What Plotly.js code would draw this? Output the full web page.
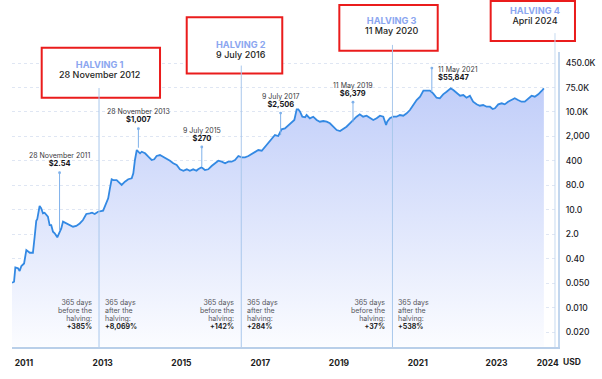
<!DOCTYPE html>
<html>
<head>
<meta charset="utf-8">
<script src="https://cdn.plot.ly/plotly-3.0.1.min.js"></script>
<style>html,body{margin:0;padding:0;background:#fff;}#chart{width:602px;height:379px;}</style>
</head>
<body>
<div id="chart"></div>
<script>
// ---- data ----
const priceDates = ['2010-09-13','2010-10-02','2010-10-14','2010-11-08','2010-11-23','2010-12-09','2011-01-03','2011-01-24','2011-02-25','2011-03-26','2011-04-11','2011-04-26','2011-05-05','2011-05-27','2011-06-11','2011-06-27','2011-07-12','2011-07-27','2011-08-12','2011-08-28','2011-09-12','2011-09-28','2011-10-14','2011-11-07','2011-11-29','2011-12-14','2011-12-30','2012-01-30','2012-03-01','2012-04-01','2012-05-01','2012-06-02','2012-07-02','2012-08-02','2012-09-03','2012-09-24','2012-10-19','2012-11-19','2013-01-05','2013-02-07','2013-02-21','2013-03-09','2013-03-25','2013-04-09','2013-05-10','2013-05-25','2013-06-26','2013-07-26','2013-08-26','2013-09-27','2013-10-12','2013-10-27','2013-11-13','2013-11-27','2013-12-13','2013-12-29','2014-01-29','2014-02-28','2014-03-31','2014-04-24','2014-05-16','2014-06-16','2014-07-16','2014-08-17','2014-09-17','2014-10-17','2014-11-18','2014-12-18','2015-01-19','2015-02-20','2015-03-20','2015-04-20','2015-05-21','2015-06-05','2015-07-07','2015-08-07','2015-09-07','2015-10-08','2015-11-08','2015-12-09','2016-01-10','2016-02-10','2016-03-10','2016-04-11','2016-05-12','2016-06-12','2016-07-13','2016-08-13','2016-09-13','2016-10-14','2016-11-14','2016-12-14','2017-01-15','2017-02-15','2017-03-15','2017-04-16','2017-05-17','2017-06-17','2017-07-02','2017-07-18','2017-08-18','2017-09-18','2017-10-19','2017-11-13','2017-12-05','2017-12-20','2018-01-05','2018-01-26','2018-02-21','2018-03-07','2018-04-06','2018-05-07','2018-06-08','2018-07-08','2018-08-08','2018-09-09','2018-10-09','2018-11-10','2018-12-11','2019-01-11','2019-02-11','2019-03-12','2019-04-12','2019-05-12','2019-06-13','2019-07-13','2019-08-13','2019-09-14','2019-10-15','2019-11-15','2019-12-16','2020-01-16','2020-02-16','2020-03-13','2020-03-23','2020-04-17','2020-05-17','2020-06-18','2020-07-19','2020-08-19','2020-09-20','2020-10-20','2020-11-20','2020-12-21','2021-01-22','2021-02-22','2021-03-23','2021-04-23','2021-05-23','2021-06-24','2021-07-24','2021-08-24','2021-09-25','2021-11-02','2021-11-26','2021-12-27','2022-01-28','2022-02-27','2022-03-29','2022-04-29','2022-05-29','2022-06-30','2022-07-30','2022-08-30','2022-10-01','2022-11-01','2022-11-26','2022-12-17','2023-01-17','2023-02-18','2023-03-18','2023-04-18','2023-05-19','2023-06-19','2023-07-19','2023-08-20','2023-09-20','2023-10-21','2023-11-22','2023-12-22','2024-01-23','2024-02-23','2024-03-15'];
const priceValues = [0.060,0.065,0.18,0.17,0.14,0.20,0.24,0.63,0.52,0.52,1.65,5.2,5.8,15.1,12.8,8.9,9.3,7.9,7.0,3.8,3.8,2.37,2.11,1.58,2.2,3.0,4.9,4.3,3.8,3.4,3.6,4.3,5.5,8.5,8.9,9.3,8.5,10.0,10.8,21.7,26.3,54,104,98,98,87,69,87,104,111,160,416,855,757,675,757,675,527,416,438,555,596,527,438,395,328,290,213,192,213,192,213,192,213,246,202,213,270,328,395,368,328,368,368,416,555,506,506,555,641,703,855,813,1084,1387,1849,2520,2344,2851,3802,4083,5180,6110,7430,16070,16070,13520,9420,9030,10650,8400,9420,7430,6580,6920,6580,5860,4580,3610,3365,3880,4580,5860,7430,9420,11200,9420,10140,8400,7430,8400,10140,9420,5180,6580,8400,9420,9420,10650,10140,12050,15280,21900,31400,39800,62200,62200,62200,50900,37100,35500,47300,57100,72900,64600,50900,42800,45000,37100,42800,27800,23000,20800,21900,19400,19400,16400,17300,23000,24800,23000,27800,31400,35500,31400,27800,27800,33700,42800,39800,47300,60100,72900];

const halvingDates = ['2012-11-28','2016-07-09','2020-05-11','2024-04-20'];
const halvingTitles = ['HALVING 1','HALVING 2','HALVING 3','HALVING 4'];
const halvingLabels = ['28 November 2012','9 July 2016','11 May 2020','April 2024'];

const eventDates = ['2011-11-28','2013-11-28','2015-07-09','2017-07-09','2019-05-11','2021-05-11'];
const eventDateLabels = ['28 November 2011','28 November 2013','9 July 2015','9 July 2017','11 May 2019','11 May 2021'];
const eventPrices = [2.54,1007,270,2506,6379,55847];
const eventPriceLabels = ['$2.54','$1,007','$270','$2,506','$6,379','$55,847'];

const beforePct = ['+385%','+142%','+37%'];
const afterPct = ['+8,069%','+284%','+538%'];

const yTickVals = [0.00172,0.0100,0.0583,0.340,1.98,11.5,67.1,391,2280,13270,77300,450800];
const yTickText = ['0.020','0.010','0.050','0.40','2.0','10.0','80.0','400','2,000','10.0K','75.0K','450.0K'];
const xTickVals = ['2011-01-01','2013-01-01','2015-01-01','2017-01-01','2019-01-01','2021-01-01','2023-01-01','2024-04-20'];
const xTickText = ['2011','2013','2015','2017','2019','2021','2023','2024'];

// ---- styling ----
const FONT = 'Inter, "Noto Sans", sans-serif';
const LINE_BLUE = '#3389e3';
const STEM = '#a9c8ec';
const RED = '#ea1c1c';

const traces = [
  {x: [priceDates[0], priceDates[priceDates.length-1]], y: [0.0006, 0.0006], mode: 'lines',
   line: {width: 0, color: 'rgba(0,0,0,0)'}, hoverinfo: 'skip', showlegend: false},
  {x: priceDates, y: priceValues, mode: 'lines', fill: 'tonexty',
   fillgradient: {type: 'vertical', colorscale: [[0, '#fbfcff'], [1, '#c1cef9']]},
   line: {color: LINE_BLUE, width: 1.8}, showlegend: false}
];

const shapes = [];
const annotations = [];

// red boxes (paper coords)
const boxes = [
  [0.0544, 0.2711, 0.8451, 1.0146],
  [0.3200, 0.4950, 0.9275, 1.1176],
  [0.5995, 0.7797, 1.0044, 1.1593],
  [0.8767, 1.0311, 1.0373, 1.1729]
];
boxes.forEach(b => shapes.push({type: 'rect', xref: 'paper', yref: 'paper', x0: b[0], x1: b[1], y0: b[2], y1: b[3],
  line: {color: RED, width: 2}, fillcolor: '#ffffff', layer: 'above'}));

// halving stems
const stemTops = [0.878, 0.954, 1.024];
for (let i = 0; i < 3; i++) {
  shapes.push({type: 'line', xref: 'x', yref: 'paper', x0: halvingDates[i], x1: halvingDates[i], y0: 0, y1: stemTops[i],
    line: {color: STEM, width: 1}, layer: 'above'});
}
shapes.push({type: 'line', xref: 'paper', yref: 'paper', x0: 0.9945, x1: 0.9945, y0: 0, y1: 1.064,
  line: {color: '#c6daf0', width: 1}, layer: 'above'});

// halving titles (two lines in one text block)
const titleY = [0.940, 1.010, 1.0886, 1.1237];
const titleShift = [0, 0, 0, -13];
for (let i = 0; i < 4; i++) {
  annotations.push({x: halvingDates[i], xref: 'x', y: titleY[i], yref: 'paper', showarrow: false,
    text: '<span style="font-size:9.2px;color:#8ba6f0;font-weight:700">' + halvingTitles[i] + '</span><br>' +
          '<span style="font-size:9px;color:#1f1f24;font-weight:500">' + halvingLabels[i] + '</span>',
    xanchor: 'center', yanchor: 'middle', xshift: titleShift[i], align: 'center',
    font: {family: FONT, size: 7.9, color: '#1f1f24'}});
}

// event markers
const stemLen = [60, 21, 21, 24, 22, 26];
for (let i = 0; i < eventDates.length; i++) {
  const ly = Math.log10(eventPrices[i]);
  annotations.push({x: eventDates[i], y: ly, xref: 'x', yref: 'y', text: ' ', font: {size: 1},
    showarrow: true, ax: 0, ay: -stemLen[i], arrowhead: 0, arrowside: 'start', startarrowhead: 6,
    startarrowsize: 0.7, arrowwidth: 1, arrowcolor: '#7fb1ea'});
  const last = (i === eventDates.length - 1);
  annotations.push({x: eventDates[i], y: ly, xref: 'x', yref: 'y', showarrow: false,
    text: '<span style="font-size:7px;color:#3a3a40">' + eventDateLabels[i] + '</span><br>' +
          '<span style="font-size:7.5px;color:#15151a;font-weight:700">' + eventPriceLabels[i] + '</span>',
    xanchor: last ? 'left' : 'center', yanchor: 'middle', xshift: last ? 4 : 0, align: last ? 'left' : 'center',
    yshift: last ? stemLen[i] - 7.5 : stemLen[i] + 10.8,
    font: {family: FONT, size: 6, color: '#3a3a40'}});
}

// 365 days texts
function block(lines, pct) {
  return lines.map(t => '<span style="font-size:7px">' + t + '</span>').join('<br>') +
    '<br><span style="font-size:7px;color:#1f1f24;font-weight:700">' + pct + '</span>';
}
for (let i = 0; i < 3; i++) {
  annotations.push({x: halvingDates[i], xref: 'x', y: 0.1108, yref: 'paper', showarrow: false,
    text: block(['365 days', 'before the', 'halving:'], beforePct[i]),
    xanchor: 'right', yanchor: 'middle', xshift: -5, align: 'right',
    font: {family: FONT, size: 6.2, color: '#55555c'}});
  annotations.push({x: halvingDates[i], xref: 'x', y: 0.1108, yref: 'paper', showarrow: false,
    text: block(['365 days', 'after the', 'halving:'], afterPct[i]),
    xanchor: 'left', yanchor: 'middle', xshift: 4, align: 'left',
    font: {family: FONT, size: 6.2, color: '#55555c'}});
}

annotations.push({x: 1.0256, xref: 'paper', y: -0.0508, yref: 'paper', text: 'USD', showarrow: false,
  xanchor: 'center', yanchor: 'middle', font: {family: FONT, size: 8.5, color: '#1d1d22', weight: 700}});

const layout = {
  width: 602, height: 379,
  margin: {l: 12, r: 44, t: 52, b: 32},
  paper_bgcolor: '#ffffff', plot_bgcolor: '#ffffff',
  showlegend: false,
  font: {family: FONT},
  xaxis: {type: 'date', range: ['2010-09-13', '2024-07-24'], tickvals: xTickVals, ticktext: xTickText,
    ticks: '', showgrid: false, zeroline: false, showline: true, linecolor: '#b9cfe9', linewidth: 1.5,
    ticklabelstandoff: 7, tickfont: {family: FONT, size: 8.5, color: '#1d1d22', weight: 700}, fixedrange: true},
  yaxis: {type: 'log', side: 'right', range: [-3.234, 6.0], tickvals: yTickVals, ticktext: yTickText,
    ticks: '', showgrid: true, gridcolor: '#dfe6f3', griddash: 'dot', gridwidth: 1, zeroline: false,
    showline: true, linecolor: '#c3d7ee', linewidth: 2, ticklabelstandoff: 4,
    tickfont: {family: FONT, size: 8.5, color: '#222228', weight: 500}, fixedrange: true},
  shapes: shapes,
  annotations: annotations
};

Plotly.newPlot('chart', traces, layout, {displayModeBar: false, staticPlot: true});
</script>
</body>
</html>
